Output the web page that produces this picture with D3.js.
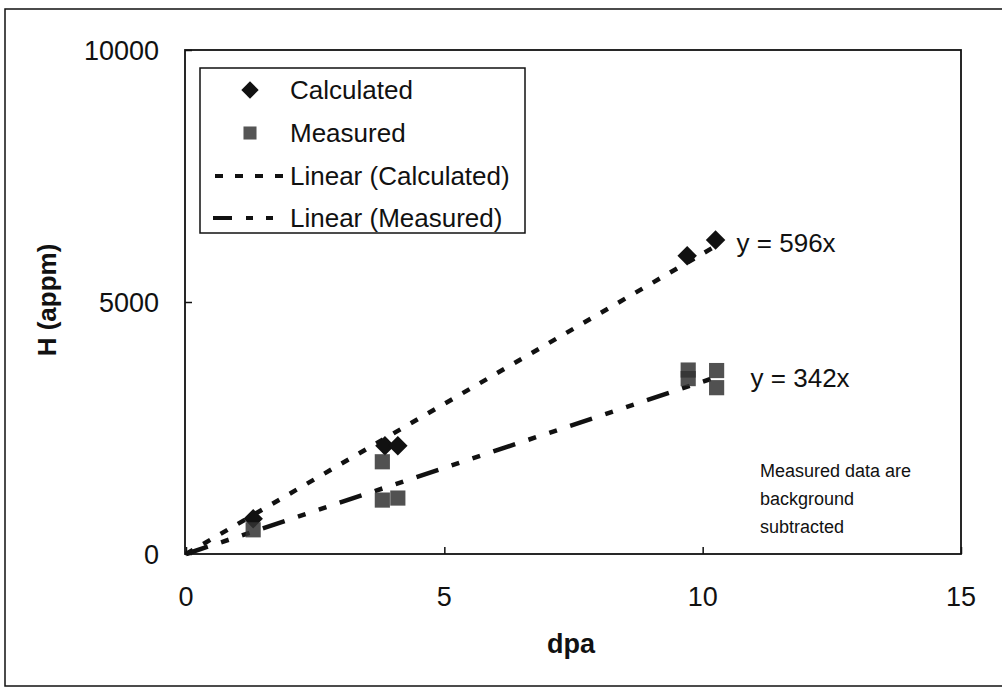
<!DOCTYPE html>
<html>
<head>
<meta charset="utf-8">
<script src="https://cdn.jsdelivr.net/npm/d3@7"></script>
<style>
    body { margin: 0; background: #fff; }
    text { font-family: "Liberation Sans", Arial, sans-serif; fill: #111; }
</style>
</head>
<body>
<div id="chart"></div>
<script>

// Calculated hydrogen (appm) vs dpa
let calcDpa = [1.3, 3.85, 4.1, 9.7, 10.25];
let calcH   = [700, 2150, 2150, 5920, 6230];

// Measured hydrogen, background subtracted
let measDpa = [1.3, 3.8, 3.8, 4.1, 9.72, 9.72, 10.27, 10.27];
let measH   = [480, 1830, 1070, 1110, 3650, 3480, 3640, 3300];

// Linear fits forced through the origin
let calcSlope = 596;
let measSlope = 342;
let fitMaxDpa = 10.25;

let xTicks = [0, 5, 10, 15];
let yTicks = [0, 5000, 10000];

let legendLabels = ["Calculated", "Measured", "Linear (Calculated)", "Linear (Measured)"];
let noteLines = ["Measured data are", "background", "subtracted"];

class HydrogenChart {

    constructor ()
    {
        this.width = 1002;
        this.height = 688;
        //plot box edges
        this.box = {left: 185, top: 50, right: 961, bottom: 554};

        this.svg = d3.select("#chart").append("svg")
            .attr("width", this.width)
            .attr("height", this.height);

        this.x = d3.scaleLinear().domain([0, 15]).range([186, 961]);
        this.y = d3.scaleLinear().domain([0, 10000]).range([554, 50]);
    };

    create ()
    {
        let svg = this.svg, x = this.x, y = this.y, box = this.box;

        //outer frame (runs off the right edge like the scan)
        svg.append("rect")
            .attr("x", 5).attr("y", 9)
            .attr("width", 1010).attr("height", 677)
            .attr("fill", "none").attr("stroke", "#111").attr("stroke-width", 1.5);

        //plot box
        svg.append("rect")
            .attr("x", box.left).attr("y", box.top)
            .attr("width", box.right - box.left).attr("height", box.bottom - box.top)
            .attr("fill", "none").attr("stroke", "#111").attr("stroke-width", 1.8);

        ///////// Axes: Start //////////////
        let xAxis = d3.axisTop(x).tickValues(xTicks).tickSize(7).tickFormat("");
        svg.append("g").attr("transform", "translate(0," + box.bottom + ")").call(xAxis)
            .call(g => g.select(".domain").remove())
            .selectAll("line").attr("stroke", "#111").attr("stroke-width", 1.5);

        let yAxis = d3.axisRight(y).tickValues(yTicks).tickSize(7).tickFormat("");
        svg.append("g").attr("transform", "translate(" + box.left + ",0)").call(yAxis)
            .call(g => g.select(".domain").remove())
            .selectAll("line").attr("stroke", "#111").attr("stroke-width", 1.5);

        svg.selectAll(".xlab").data(xTicks).enter().append("text")
            .attr("class", "xlab")
            .attr("x", d => x(d)).attr("y", box.bottom + 52)
            .attr("text-anchor", "middle").attr("font-size", 27)
            .text(d => d);

        svg.selectAll(".ylab").data(yTicks).enter().append("text")
            .attr("class", "ylab")
            .attr("x", 159).attr("y", d => y(d)).attr("dy", "0.36em")
            .attr("text-anchor", "end").attr("font-size", 27)
            .text(d => d);

        svg.append("text")
            .attr("x", 571).attr("y", 653)
            .attr("text-anchor", "middle").attr("font-size", 27).attr("font-weight", "bold")
            .text("dpa");

        svg.append("text")
            .attr("transform", "translate(56,300) rotate(-90)")
            .attr("text-anchor", "middle").attr("font-size", 26).attr("font-weight", "bold")
            .text("H (appm)");
        ///////// Axes: End ////////////////

        //trend lines
        let line = d3.line().x(d => x(d[0])).y(d => y(d[1]));
        svg.append("path")
            .datum([[0, 0], [fitMaxDpa, calcSlope * fitMaxDpa]])
            .attr("d", line)
            .attr("fill", "none").attr("stroke", "#111").attr("stroke-width", 4.5)
            .attr("stroke-dasharray", "8,12");
        svg.append("path")
            .datum([[0, 0], [fitMaxDpa, measSlope * fitMaxDpa]])
            .attr("d", line)
            .attr("fill", "none").attr("stroke", "#111").attr("stroke-width", 4.5)
            .attr("stroke-dasharray", "23,14,8,14,8,14");

        //calculated points as diamonds
        let diamond = d3.symbol().type(d3.symbolSquare).size(190);
        svg.selectAll(".calc").data(calcDpa).enter().append("path")
            .attr("class", "calc")
            .attr("d", diamond)
            .attr("transform", (d, i) => "translate(" + x(d) + "," + y(calcH[i]) + ") rotate(45)")
            .attr("fill", "#111");

        //measured points as grey squares
        let square = d3.symbol().type(d3.symbolSquare).size(230);
        svg.selectAll(".meas").data(measDpa).enter().append("path")
            .attr("class", "meas")
            .attr("d", square)
            .attr("transform", (d, i) => "translate(" + x(d) + "," + y(measH[i]) + ")")
            .attr("fill", "#333").attr("fill-opacity", 0.85);

        //equations beside the fits
        svg.append("text")
            .attr("x", x(fitMaxDpa) + 21).attr("y", 252)
            .attr("font-size", 26).text("y = " + calcSlope + "x");
        svg.append("text")
            .attr("x", x(fitMaxDpa) + 35).attr("y", 387)
            .attr("font-size", 26).text("y = " + measSlope + "x");

        //note text
        svg.selectAll(".note").data(noteLines).enter().append("text")
            .attr("class", "note")
            .attr("x", 760).attr("y", (d, i) => 477 + i * 28)
            .attr("font-size", 18)
            .text(d => d);

        this.legend();
    };

    legend ()
    {
        let svg = this.svg;
        let g = svg.append("g");
        g.append("rect")
            .attr("x", 200).attr("y", 68).attr("width", 325).attr("height", 165)
            .attr("fill", "#fff").attr("stroke", "#111").attr("stroke-width", 1.5);

        let rows = [90, 133, 176, 218];
        g.selectAll("text").data(legendLabels).enter().append("text")
            .attr("x", 290).attr("y", (d, i) => rows[i]).attr("dy", "0.35em")
            .attr("font-size", 26)
            .text(d => d);

        g.append("path")
            .attr("d", d3.symbol().type(d3.symbolSquare).size(150))
            .attr("transform", "translate(250," + rows[0] + ") rotate(45)")
            .attr("fill", "#111");
        g.append("path")
            .attr("d", d3.symbol().type(d3.symbolSquare).size(170))
            .attr("transform", "translate(250," + rows[1] + ")")
            .attr("fill", "#555");

        g.append("line")
            .attr("x1", 215).attr("x2", 287).attr("y1", rows[2]).attr("y2", rows[2])
            .attr("stroke", "#111").attr("stroke-width", 4).attr("stroke-dasharray", "8,12");
        g.append("line")
            .attr("x1", 213).attr("x2", 287).attr("y1", rows[3]).attr("y2", rows[3])
            .attr("stroke", "#111").attr("stroke-width", 4).attr("stroke-dasharray", "19,14,7,13,7,14");
    };
}

let chart = new HydrogenChart();
chart.create();

</script>
</body>
</html>
